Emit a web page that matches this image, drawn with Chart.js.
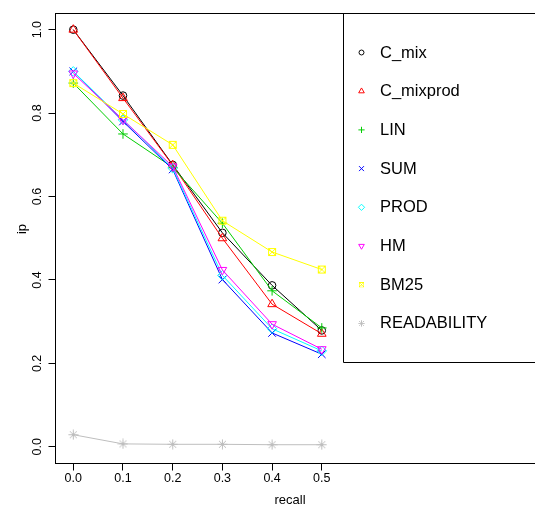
<!DOCTYPE html>
<html><head><meta charset="utf-8">
<script src="https://cdn.jsdelivr.net/npm/chart.js@4.4.1/dist/chart.umd.min.js"></script>
<style>
html,body{margin:0;padding:0;background:#fff;overflow:hidden;width:535px;height:506px}
#wrap{position:absolute;left:0;top:0;width:560px;height:506px}
canvas{display:block}
</style></head>
<body><div id="wrap"><canvas id="c" width="560" height="506"></canvas></div>
<script>
// ---- data ----
const recall = [0.0, 0.1, 0.2, 0.3, 0.4, 0.5];
const C_mix       = [1.000, 0.842, 0.676, 0.513, 0.387, 0.279];
const C_mixprod   = [1.000, 0.836, 0.675, 0.500, 0.342, 0.271];
const LIN         = [0.872, 0.750, 0.670, 0.536, 0.374, 0.285];
const SUM         = [0.900, 0.780, 0.665, 0.401, 0.273, 0.222];
const PROD        = [0.900, 0.784, 0.668, 0.411, 0.283, 0.230];
const HM          = [0.895, 0.784, 0.672, 0.424, 0.294, 0.234];
const BM25        = [0.872, 0.798, 0.724, 0.542, 0.467, 0.425];
const READABILITY = [0.029, 0.007, 0.006, 0.006, 0.005, 0.005];
const seriesNames = ['C_mix','C_mixprod','LIN','SUM','PROD','HM','BM25','READABILITY'];
const seriesValues = [C_mix, C_mixprod, LIN, SUM, PROD, HM, BM25, READABILITY];
const xTickValues = [0.0, 0.1, 0.2, 0.3, 0.4, 0.5];
const xTickLabels = ['0.0','0.1','0.2','0.3','0.4','0.5'];
const yTickValues = [0.0, 0.2, 0.4, 0.6, 0.8, 1.0];
const yTickLabels = ['0.0','0.2','0.4','0.6','0.8','1.0'];
const xTitle = 'recall';
const yTitle = 'ip';

// ---- styles ----
const colors = ['#000000','#FF0000','#00CD00','#0000FF','#00FFFF','#FF00FF','#FFFF00','#BEBEBE'];
const FONT = '"Liberation Sans", Arial, Helvetica, sans-serif';

function makeBoxX(color){
  const c = document.createElement('canvas'); c.width = 10; c.height = 10;
  const g = c.getContext('2d'); g.strokeStyle = color; g.lineWidth = 1;
  g.strokeRect(1.5,1.5,7,7);
  g.beginPath(); g.moveTo(1.5,1.5); g.lineTo(8.5,8.5); g.moveTo(8.5,1.5); g.lineTo(1.5,8.5); g.stroke();
  return c;
}
function makeStar(color){
  const c = document.createElement('canvas'); c.width = 11; c.height = 11;
  const g = c.getContext('2d'); g.strokeStyle = color; g.lineWidth = 1;
  g.beginPath();
  g.moveTo(0.5,5.5); g.lineTo(10.5,5.5);
  g.moveTo(5.5,0.5); g.lineTo(5.5,10.5);
  g.moveTo(2,2); g.lineTo(9,9);
  g.moveTo(9,2); g.lineTo(2,9);
  g.stroke();
  return c;
}
const pointStyles = ['circle','triangle','cross','crossRot','rectRot','triangle', makeBoxX(colors[6]), makeStar(colors[7])];
const pointRotations = [0,0,0,0,0,180,0,0];
const pointRadii = [3.8,5,4.8,5.4,4.8,5,5,5.5];

const datasets = seriesNames.map((name,i)=>({
  label: name,
  data: recall.map((x,j)=>({x:x, y:seriesValues[i][j]})),
  borderColor: colors[i],
  backgroundColor: 'rgba(0,0,0,0)',
  borderWidth: 1,
  pointStyle: pointStyles[i],
  pointRotation: pointRotations[i],
  pointRadius: pointRadii[i],
  pointBorderWidth: 1,
  pointBorderColor: colors[i],
  pointBackgroundColor: 'rgba(0,0,0,0)',
  tension: 0,
  fill: false,
  order: seriesNames.length - i
}));

const framePlugin = {
  id: 'frame',
  afterDraw(chart){
    const ctx = chart.ctx, a = chart.chartArea;
    ctx.save();
    ctx.strokeStyle = '#000'; ctx.lineWidth = 1;
    const top = Math.round(a.top) + 0.5;
    ctx.beginPath(); ctx.moveTo(Math.round(a.left)-0.5, top); ctx.lineTo(chart.width, top); ctx.stroke();
    // legend box
    const lx = 343.5, lb = 362.5;
    ctx.beginPath(); ctx.moveTo(lx, top); ctx.lineTo(lx, lb); ctx.lineTo(chart.width, lb); ctx.stroke();
    ctx.font = '16.5px ' + FONT; ctx.fillStyle = '#000';
    ctx.textAlign = 'left'; ctx.textBaseline = 'middle';
    chart.data.datasets.forEach((ds,i)=>{
      const y = 52.5 + i*38.7;
      const mx = 361.5;
      ctx.save();
      ctx.translate(mx, y); ctx.scale(0.65,0.65);
      ctx.strokeStyle = ds.pointBorderColor; ctx.fillStyle = 'rgba(0,0,0,0)'; ctx.lineWidth = 1.5;
      Chart.helpers.drawPoint(ctx, {pointStyle: ds.pointStyle, rotation: ds.pointRotation, radius: ds.pointRadius, borderWidth: 1.5}, 0, 0);
      ctx.restore();
      ctx.fillStyle = '#000';
      ctx.fillText(ds.label, 380, y + 0.5);
    });
    // axis titles
    ctx.font = '13px ' + FONT; ctx.textAlign = 'center'; ctx.textBaseline = 'middle';
    ctx.fillText(xTitle, 290, 500);
    ctx.save(); ctx.translate(22, 229); ctx.rotate(-Math.PI/2); ctx.fillText(yTitle, 0, 0); ctx.restore();
    ctx.restore();
  }
};

new Chart(document.getElementById('c'), {
  type: 'line',
  data: { datasets },
  options: {
    responsive: false,
    animation: false,
    devicePixelRatio: 1,
    layout: { padding: { top: 13, right: 10, left: 0, bottom: 0 } },
    plugins: { legend: { display: false }, tooltip: { enabled: false } },
    scales: {
      x: {
        type: 'linear', min: -0.0358, max: 0.9592,
        afterBuildTicks(s){ s.ticks = xTickValues.map(v=>({value:v})); },
        afterFit(s){ s.height = 42.5; },
        grid: { drawOnChartArea: false, tickLength: 7, tickColor: '#000', tickWidth: 1 },
        border: { color: '#000', width: 1 },
        ticks: { color: '#000', font: { family: FONT, size: 12.5 }, padding: 1, maxRotation: 0, minRotation: 0,
                 callback: (v, idx) => xTickLabels[idx] }
      },
      y: {
        type: 'linear', min: -0.04, max: 1.04,
        afterBuildTicks(s){ s.ticks = yTickValues.map(v=>({value:v})); },
        afterFit(s){ s.width = 55.5; },
        grid: { drawOnChartArea: false, tickLength: 7, tickColor: '#000', tickWidth: 1 },
        border: { color: '#000', width: 1 },
        ticks: { color: '#000', font: { family: FONT, size: 12.5 }, padding: 2, minRotation: 90, maxRotation: 90,
                 crossAlign: 'center', callback: (v, idx) => yTickLabels[idx] }
      }
    }
  },
  plugins: [framePlugin]
});
</script>
</body></html>
